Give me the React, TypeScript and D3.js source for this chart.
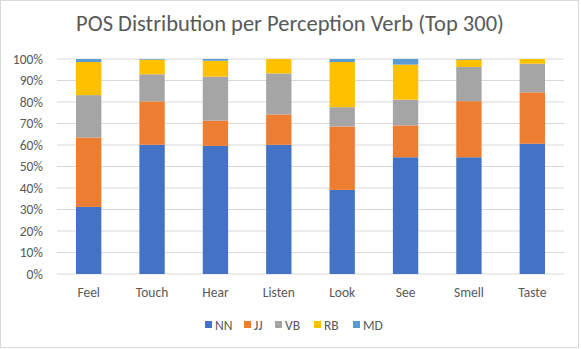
import React from 'react';
import {scaleBand, scaleLinear, stack} from 'd3';

const categories = ['Feel', 'Touch', 'Hear', 'Listen', 'Look', 'See', 'Smell', 'Taste'];
const seriesKeys = ['NN', 'JJ', 'VB', 'RB', 'MD'];
const nnValues = [31.2, 60.1, 59.6, 60.1, 39.1, 54.3, 54.3, 60.6];
const jjValues = [32.3, 20.2, 11.7, 14.1, 29.5, 14.8, 26.1, 23.9];
const vbValues = [19.7, 12.6, 20.5, 19.1, 9.0, 12.0, 15.9, 13.3];
const rbValues = [15.4, 6.8, 7.4, 6.7, 21.0, 16.3, 3.4, 2.2];
const mdValues = [1.4, 0.3, 0.8, 0.0, 1.4, 2.6, 0.3, 0.0];
const yTicks = [0, 10, 20, 30, 40, 50, 60, 70, 80, 90, 100];

const colors: Record<string, string> = {
	NN: '#4472C4',
	JJ: '#ED7D31',
	VB: '#A5A5A5',
	RB: '#FFC000',
	MD: '#5B9BD5',
};

const W = 581;
const H = 349;
const margin = {t: 59, r: 17, b: 75, l: 57};
const font = 'Carlito, Lato, sans-serif';
const labelSize = 13.5;

// one row per verb, as stack() wants it
const rows = categories.map((c, i) => ({
	cat: c,
	NN: nnValues[i],
	JJ: jjValues[i],
	VB: vbValues[i],
	RB: rbValues[i],
	MD: mdValues[i],
}));

const innerW = W - margin.l - margin.r;
const innerH = H - margin.t - margin.b;

const x = scaleBand().domain(categories).range([0, innerW]).paddingInner(0.6).paddingOuter(0.3);
const y = scaleLinear().domain([0, 100]).range([innerH, 0]);

const layers = stack<any>().keys(seriesKeys)(rows);

export default function App() {
	const legendItemW = [39, 31, 39, 39, 30];
	const legendTotal = legendItemW.reduce((a, b) => a + b, 0);
	let lx = 205;

	return (
		<svg width={W} height={H} style={{position: 'absolute', left: 0, top: 0, background: '#fff'}}>
			<rect x={0.5} y={0.5} width={W - 3} height={H - 2} fill='#fff' stroke='#d9d9d9' />
			<text x={290} y={31} textAnchor='middle' fontFamily={font} fontSize={22.5} fill='#595959'>
				POS Distribution per Perception Verb (Top 300)
			</text>
			<g transform={`translate(${margin.l},${margin.t})`}>
				{yTicks.map(t => (
					<g key={t}>
						<line x1={0} x2={innerW} y1={y(t)} y2={y(t)} stroke='#d9d9d9' strokeWidth={1} />
						<text x={-14} y={y(t)} dy='0.35em' textAnchor='end' fontFamily={font} fontSize={labelSize} fill='#595959'>
							{t + '%'}
						</text>
					</g>
				))}
				{layers.map(layer => (
					<g key={layer.key} fill={colors[layer.key]}>
						{layer.map((d, i) => (
							<rect
								key={i}
								x={x(categories[i])}
								y={y(d[1])}
								width={x.bandwidth()}
								height={Math.max(0, y(d[0]) - y(d[1]))}
							/>
						))}
					</g>
				))}
				{categories.map(c => (
					<text key={c} x={(x(c) || 0) + x.bandwidth() / 2} y={innerH + 23} textAnchor='middle'
						fontFamily={font} fontSize={labelSize} fill='#595959'>
						{c}
					</text>
				))}
			</g>
			<g transform={`translate(0,${325})`}>
				{seriesKeys.map((k, i) => {
					const gx = lx;
					lx += legendItemW[i];
					return (
						<g key={k} transform={`translate(${gx},0)`}>
							<rect x={0} y={-4} width={7} height={7} fill={colors[k]} />
							<text x={10} y={0} dy='0.35em' fontFamily={font} fontSize={labelSize} fill='#595959'>{k}</text>
						</g>
					);
				})}
			</g>
		</svg>
	);
}
